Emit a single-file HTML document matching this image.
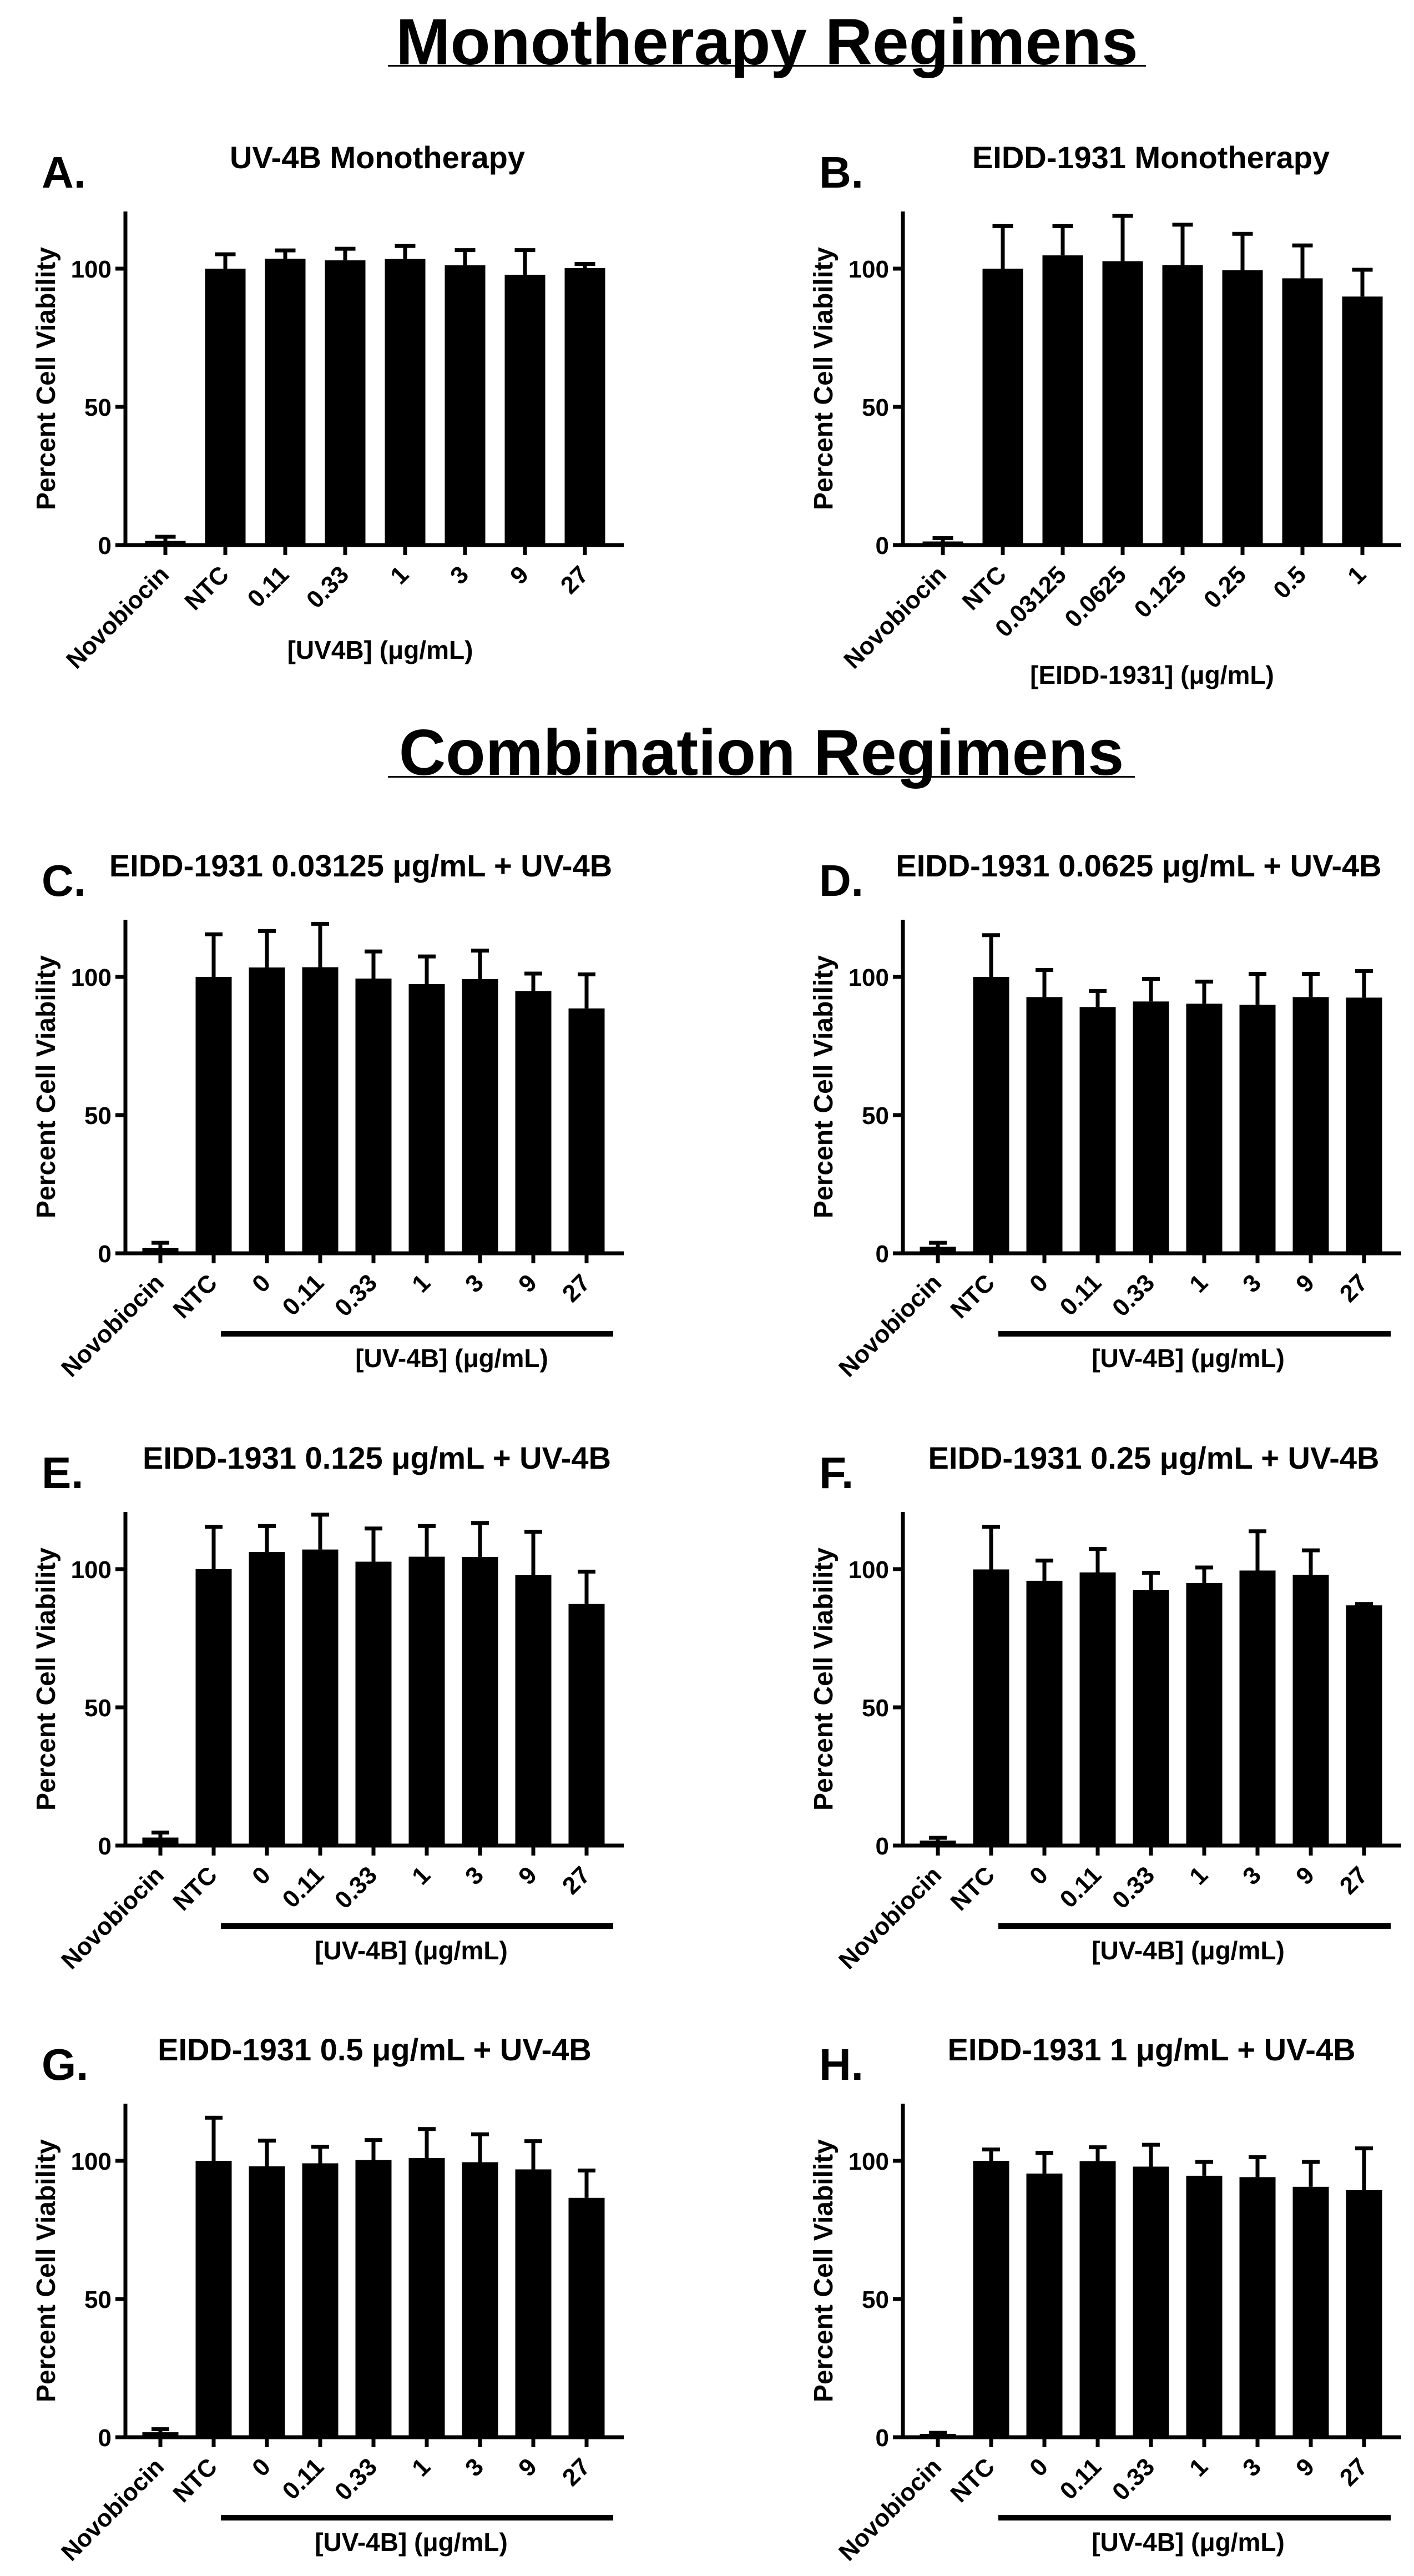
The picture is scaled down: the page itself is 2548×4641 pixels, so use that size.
<!DOCTYPE html>
<html><head><meta charset="utf-8"><title>Monotherapy and Combination Regimens</title>
<style>
html,body{margin:0;padding:0;background:#fff;}
svg{display:block;font-family:"Liberation Sans",Arial,sans-serif;font-weight:bold;}
</style></head>
<body>
<svg id="fig" width="2548" height="4641" viewBox="0 0 2548 4641" xmlns="http://www.w3.org/2000/svg">
<rect width="2548" height="4641" fill="#fff"/>
<text x="1382" y="116" font-size="118" text-anchor="middle">Monotherapy Regimens</text>
<rect x="699" y="117" width="1366" height="3" fill="#000"/>
<text x="1372" y="1396" font-size="117" text-anchor="middle">Combination Regimens</text>
<rect x="699" y="1398" width="1346" height="3" fill="#000"/>
</svg>
<script>
// ---- data ----
const catsA = ["Novobiocin","NTC","0.11","0.33","1","3","9","27"];
const catsB = ["Novobiocin","NTC","0.03125","0.0625","0.125","0.25","0.5","1"];
const catsCombo = ["Novobiocin","NTC","0","0.11","0.33","1","3","9","27"];
const yTicks = [0, 50, 100];
const meanA = [1.5,100,103.6,103,103.5,101.2,97.8,100.2];
const sdA   = [1.5,5.2,3,4.2,4.7,5.5,8.9,1.5];
const meanB = [1.3,100,104.8,102.7,101.3,99.4,96.5,89.9];
const sdB   = [1.2,15.4,10.6,16.4,14.6,13.2,11.9,9.7];
const meanC = [2,100,103.4,103.5,99.4,97.4,99.2,94.9,88.6];
const sdC   = [1.8,15.4,13.2,15.7,9.8,10,10.3,6.3,12.3];
const meanD = [2.4,100,92.7,89.1,91.1,90.3,89.9,92.7,92.5];
const sdD   = [1.4,15.1,9.8,5.8,8.2,8,11.2,8.4,9.6];
const meanE = [2.9,100,106.2,107.1,102.7,104.5,104.4,97.8,87.4];
const sdE   = [1.8,15.3,9.4,12.6,12,11.1,12.3,15.7,11.7];
const meanF = [1.8,99.9,95.8,98.8,92.4,95,99.5,97.9,86.9];
const sdF   = [1,15.4,7.3,8.5,6.3,5.6,14.2,8.9,0.5];
const meanG = [1.8,100,98,99.1,100.3,101,99.5,96.9,86.6];
const sdG   = [1.1,15.6,9.3,6,7.2,10.5,10.1,10.2,9.9];
const meanH = [1.2,100,95.4,99.9,97.9,94.6,94.1,90.6,89.4];
const sdH   = [0.4,4.1,7.5,5,7.9,5,7.2,9,15.1];
const titles = ["UV-4B Monotherapy","EIDD-1931 Monotherapy",
  "EIDD-1931 0.03125 μg/mL + UV-4B","EIDD-1931 0.0625 μg/mL + UV-4B",
  "EIDD-1931 0.125 μg/mL + UV-4B","EIDD-1931 0.25 μg/mL + UV-4B",
  "EIDD-1931 0.5 μg/mL + UV-4B","EIDD-1931 1 μg/mL + UV-4B"];
const letters = ["A.","B.","C.","D.","E.","F.","G.","H."];
const xTitles = ["[UV4B] (μg/mL)","[EIDD-1931] (μg/mL)","[UV-4B] (μg/mL)","[UV-4B] (μg/mL)","[UV-4B] (μg/mL)","[UV-4B] (μg/mL)","[UV-4B] (μg/mL)","[UV-4B] (μg/mL)"];

// ---- layout (not data) ----
const NS = "http://www.w3.org/2000/svg";
const svg = document.getElementById("fig");
const colX = [226, 1627];
const rowZero = [982, 2258, 3325, 4391];
const PX_PER_UNIT = 4.98;
const layouts = [
  {cats:catsA, mean:meanA, sd:sdA, col:0,row:0, titleX:680, xtX:685, xtDy:205, bracket:false},
  {cats:catsB, mean:meanB, sd:sdB, col:1,row:0, titleX:2074, xtX:2076, xtDy:250, bracket:false},
  {cats:catsCombo, mean:meanC, sd:sdC, col:0,row:1, titleX:650, xtX:814, xtDy:205, bracket:true},
  {cats:catsCombo, mean:meanD, sd:sdD, col:1,row:1, titleX:2052, xtX:2141, xtDy:205, bracket:true},
  {cats:catsCombo, mean:meanE, sd:sdE, col:0,row:2, titleX:679, xtX:741, xtDy:205, bracket:true},
  {cats:catsCombo, mean:meanF, sd:sdF, col:1,row:2, titleX:2079, xtX:2141, xtDy:205, bracket:true},
  {cats:catsCombo, mean:meanG, sd:sdG, col:0,row:3, titleX:675, xtX:741, xtDy:205, bracket:true},
  {cats:catsCombo, mean:meanH, sd:sdH, col:1,row:3, titleX:2075, xtX:2141, xtDy:205, bracket:true}
];

function mk(tag, attrs, parent){
  const e = document.createElementNS(NS, tag);
  for (const k in attrs) e.setAttribute(k, attrs[k]);
  (parent||svg).appendChild(e);
  return e;
}

layouts.forEach((p, pi) => {
  const ox = colX[p.col], zero = rowZero[p.row];
  const n = p.cats.length;
  const first = n === 8 ? 72 : 63, step = n === 8 ? 108 : 96;
  const bw = n === 8 ? 73 : 65, capW = n === 8 ? 37 : 32;
  const yS = v => zero - v * PX_PER_UNIT;
  const xS = i => ox + first + i * step;

  const g = mk("g", {});
  
  

  const lab = mk("text", {x: ox - 151, y: zero - 644, "font-size": 80}, g);
  lab.textContent = letters[pi];
  
  

  const t = mk("text", {x: p.titleX, y: zero - 679, "font-size": 56, "text-anchor": "middle"}, g);
  t.textContent = titles[pi];
  
  

  // bars and error bars
  p.mean.forEach((m, i) => {
    const cx = xS(i);
    const top = p.mean[i] + p.sd[i];
    const eb = mk("rect", {x: cx - 3.5, y: yS(top), width: 7, height: yS(m) - yS(top), fill: "#000"}, g);
    
    
    const cap = mk("rect", {x: cx - capW/2, y: yS(top) - 3.5, width: capW, height: 7, fill: "#000"}, g);
    
    
    const b = mk("rect", {x: cx - bw/2, y: yS(m), width: bw, height: zero - yS(m), fill: "#000"}, g);
    
    
  });

  // axes
  const ya = mk("rect", {x: ox - 3.5, y: zero - 601, width: 7, height: 604, fill: "#000"}, g);
  
  
  const xa = mk("rect", {x: ox - 18, y: zero - 3.5, width: 916, height: 7, fill: "#000"}, g);
  
  

  yTicks.forEach(v => {
    const tk = mk("rect", {x: ox - 18, y: yS(v) - 3.5, width: 18, height: 7, fill: "#000"}, g);
    
    
    const tl = mk("text", {x: ox - 25, y: yS(v) + 16, "font-size": 44, "text-anchor": "end"}, g);
    tl.textContent = String(v);
    
    
  });

  p.cats.forEach((c, i) => {
    const cx = xS(i);
    const tk = mk("rect", {x: cx - 3.5, y: zero, width: 7, height: 18, fill: "#000"}, g);
    
    
    const ax = cx + 9, ay = zero + 56;
    const tl = mk("text", {x: ax, y: ay, "font-size": 44, "text-anchor": "end", transform: "rotate(-45 " + ax + " " + ay + ")"}, g);
    tl.textContent = c;
    
    
  });

  const yt = mk("text", {x: 0, y: 0, "font-size": 48, "text-anchor": "middle", transform: "translate(" + (ox - 127) + "," + (zero - 300) + ") rotate(-90)"}, g);
  yt.textContent = "Percent Cell Viability";
  
  

  if (p.bracket) {
    const br = mk("rect", {x: ox + 172, y: zero + 140, width: 707, height: 10, fill: "#000"}, g);
    
    
  }
  const xt = mk("text", {x: p.xtX, y: zero + p.xtDy, "font-size": 46, "text-anchor": "middle"}, g);
  xt.textContent = xTitles[pi];
  
  
});
</script>
</body></html>
